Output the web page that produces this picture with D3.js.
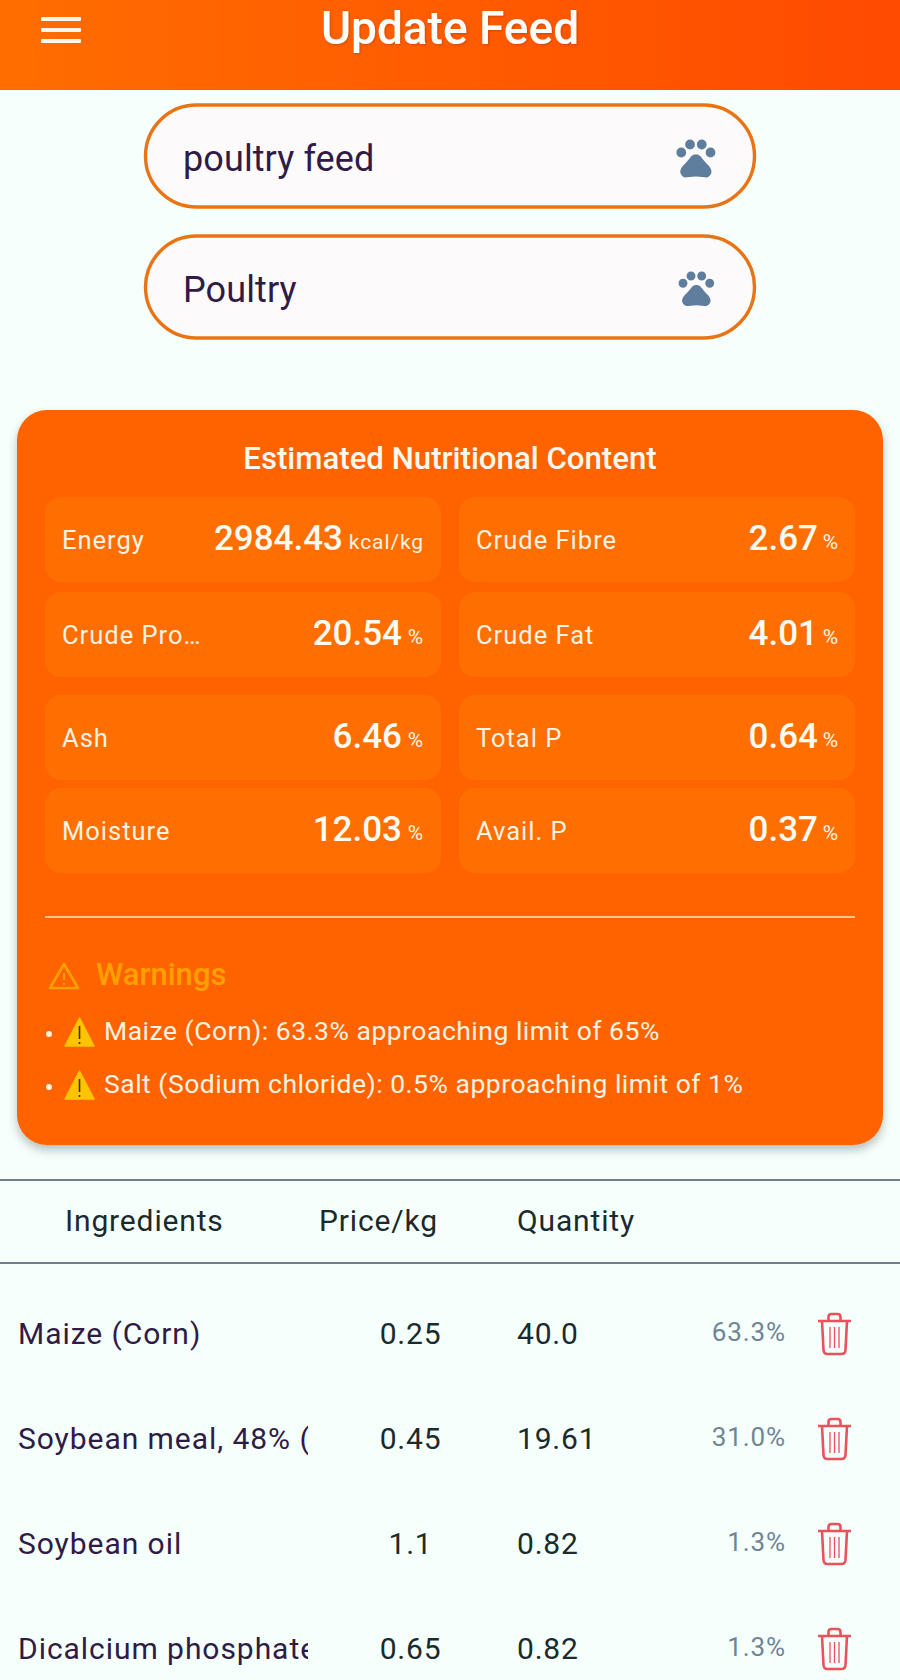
<!DOCTYPE html>
<html>
<head>
<meta charset="utf-8">
<script src="https://d3js.org/d3.v7.min.js"></script>
<style>
    html, body { margin: 0; padding: 0; background: #f5fffb; }
    svg { display: block; font-family: Roboto, sans-serif; }
</style>
</head>
<body>
<svg id="app" width="900" height="1680"></svg>
<script>
    // nutrition grid
    const nutrientLabels = ["Energy", "Crude Fibre", "Crude Pro…", "Crude Fat", "Ash", "Total P", "Moisture", "Avail. P"];
    const nutrientValues = ["2984.43", "2.67", "20.54", "4.01", "6.46", "0.64", "12.03", "0.37"];
    const nutrientUnits = ["kcal/kg", "%", "%", "%", "%", "%", "%", "%"];

    // warnings
    const warningLines = [
        "Maize (Corn): 63.3% approaching limit of 65%",
        "Salt (Sodium chloride): 0.5% approaching limit of 1%"
    ];

    // ingredient table
    const tableHeaders = ["Ingredients", "Price/kg", "Quantity"];
    const ingredients = ["Maize (Corn)", "Soybean meal, 48% (CP)", "Soybean oil", "Dicalcium phosphate"];
    const prices = ["0.25", "0.45", "1.1", "0.65"];
    const quantities = ["40.0", "19.61", "0.82", "0.82"];
    const shares = ["63.3%", "31.0%", "1.3%", "1.3%"];

    const formFields = ["poultry feed", "Poultry"];

    const svg = d3.select("#app");
    const defs = svg.append("defs");

    const grad = defs.append("linearGradient").attr("id", "headerGrad");
    grad.append("stop").attr("offset", "0%").attr("stop-color", "#ff6d00");
    grad.append("stop").attr("offset", "100%").attr("stop-color", "#ff4a00");

    const shadow = defs.append("filter").attr("id", "cardShadow")
        .attr("x", "-5%").attr("y", "-5%").attr("width", "110%").attr("height", "110%");
    shadow.append("feDropShadow").attr("dx", 0).attr("dy", 5).attr("stdDeviation", 5)
        .attr("flood-color", "#000").attr("flood-opacity", 0.25);

    const titleShadow = defs.append("filter").attr("id", "titleShadow");
    titleShadow.append("feDropShadow").attr("dx", 1).attr("dy", 1).attr("stdDeviation", 1)
        .attr("flood-color", "#000").attr("flood-opacity", 0.2);

    defs.append("clipPath").attr("id", "nameClip")
        .append("rect").attr("x", 0).attr("y", 1280).attr("width", 308).attr("height", 400);

    const pawPath = "M4.5 7a2.5 2.5 0 1 0 0 5a2.5 2.5 0 1 0 0-5zM9 3a2.5 2.5 0 1 0 0 5a2.5 2.5 0 1 0 0-5zM15 3a2.5 2.5 0 1 0 0 5a2.5 2.5 0 1 0 0-5zM19.5 7a2.5 2.5 0 1 0 0 5a2.5 2.5 0 1 0 0-5zM17.34 14.86c-.87-1.02-1.6-1.89-2.48-2.91-.46-.54-1.05-1.08-1.75-1.32-.11-.04-.22-.07-.33-.09-.25-.04-.52-.04-.78-.04s-.53 0-.79.05c-.11.02-.22.05-.33.09-.7.24-1.28.78-1.75 1.32-.87 1.02-1.6 1.89-2.48 2.91-1.31 1.31-2.92 2.76-2.62 4.79.29 1.02 1.02 2.03 2.33 2.32.73.15 3.06-.44 5.54-.44h.18c2.48 0 4.81.58 5.54.44 1.31-.29 2.04-1.31 2.33-2.32.31-2.04-1.3-3.49-2.61-4.8z";

    // header
    svg.append("rect").attr("width", 900).attr("height", 90).attr("fill", "url(#headerGrad)");
    svg.append("g").selectAll("rect")
        .data([17, 28, 39])
        .join("rect")
        .attr("x", 41).attr("y", d => d).attr("width", 40).attr("height", 4).attr("rx", 1)
        .attr("fill", "#fff6ec");
    svg.append("text")
        .attr("x", 450).attr("y", 44).attr("text-anchor", "middle")
        .attr("font-size", 46).attr("font-weight", 500).attr("fill", "#fff")
        .attr("filter", "url(#titleShadow)")
        .text("Update Feed");

    // name + animal fields
    const fieldY = d3.scaleOrdinal().domain(formFields).range([105, 236]);
    const fields = svg.append("g").selectAll("g")
        .data(formFields)
        .join("g")
        .attr("transform", d => `translate(0,${fieldY(d)})`);
    fields.append("rect")
        .attr("x", 145.5).attr("width", 609).attr("height", 102).attr("rx", 51)
        .attr("fill", "#fdfafc").attr("stroke", "#ea7413").attr("stroke-width", 3.4);
    fields.append("text")
        .attr("x", 183).attr("y", 66)
        .attr("font-size", 36).attr("letter-spacing", 0.1).attr("fill", "#2f1b45")
        .text(d => d);
    fields.append("path")
        .attr("d", pawPath)
        .attr("transform", (d, i) => i === 0 ? "translate(672.5,28.5) scale(1.95,2.0)" : "translate(675,30) scale(1.78,1.82)")
        .attr("fill", "#5f7d9c");

    // nutrition card
    svg.append("rect")
        .attr("x", 17).attr("y", 410).attr("width", 866).attr("height", 735).attr("rx", 30)
        .attr("fill", "#ff6400").attr("filter", "url(#cardShadow)");
    svg.append("text")
        .attr("x", 450).attr("y", 469).attr("text-anchor", "middle")
        .attr("font-size", 31.2).attr("font-weight", 500).attr("fill", "#fff8ef")
        .text("Estimated Nutritional Content");

    const colX = d3.scaleOrdinal().domain([0, 1]).range([45, 459]);
    const rowY = d3.scaleOrdinal().domain([0, 1, 2, 3]).range([497, 592, 695, 788]);
    const cells = svg.append("g").selectAll("g")
        .data(nutrientLabels)
        .join("g")
        .attr("transform", (d, i) => `translate(${colX(i % 2)},${rowY(Math.floor(i / 2))})`);
    cells.append("rect")
        .attr("width", 396).attr("height", 85).attr("rx", 16).attr("fill", "#ff6e00");
    cells.append("text")
        .attr("x", 17).attr("y", 52)
        .attr("font-size", 25.5).attr("letter-spacing", 1).attr("fill", "#fff3e4")
        .text(d => d);
    cells.append("text")
        .attr("x", (d, i) => i % 2 ? 380 : 379).attr("y", 52).attr("text-anchor", "end")
        .attr("font-size", 21).attr("letter-spacing", 0.9).attr("fill", "#fff3e4")
        .text((d, i) => nutrientUnits[i]);
    cells.append("text")
        .attr("x", (d, i) => i === 0 ? 298 : (i % 2 ? 359 : 357)).attr("y", 53).attr("text-anchor", "end")
        .attr("font-size", 35).attr("font-weight", 500).attr("fill", "#fffaf2")
        .text((d, i) => nutrientValues[i]);

    svg.append("line")
        .attr("x1", 45).attr("x2", 855).attr("y1", 917).attr("y2", 917)
        .attr("stroke", "#ffc78f").attr("stroke-width", 2);

    // warnings
    svg.append("path")
        .attr("d", "M64 964L78 988H50Z")
        .attr("fill", "none").attr("stroke", "#ffa000").attr("stroke-width", 2.6).attr("stroke-linejoin", "round");
    svg.append("path")
        .attr("d", "M64 973V980M64 983V985")
        .attr("stroke", "#ffa000").attr("stroke-width", 2);
    svg.append("text")
        .attr("x", 96).attr("y", 985)
        .attr("font-size", 31).attr("font-weight", 500).attr("fill", "#ffa000")
        .text("Warnings");

    const warnY = d3.scaleOrdinal().domain(warningLines).range([1040, 1093]);
    const warns = svg.append("g").selectAll("g")
        .data(warningLines)
        .join("g")
        .attr("transform", d => `translate(0,${warnY(d)})`);
    warns.append("circle").attr("cx", 49).attr("cy", -6).attr("r", 3).attr("fill", "#fff3e4");
    warns.append("path")
        .attr("d", "M79.5 -22L94 6H65Z")
        .attr("fill", "#ffc400").attr("stroke", "#ffc400").attr("stroke-width", 1.5).attr("stroke-linejoin", "round");
    warns.append("path")
        .attr("d", "M79.5 -14V-1M79.5 2V4")
        .attr("stroke", "#3a2a10").attr("stroke-width", 1.6);
    warns.append("text")
        .attr("x", 104).attr("y", 0)
        .attr("font-size", 26.5).attr("letter-spacing", 0.5).attr("fill", "#fff3e4")
        .text(d => d);

    // table header
    svg.append("g").selectAll("line")
        .data([1180, 1263])
        .join("line")
        .attr("x1", 0).attr("x2", 900).attr("y1", d => d).attr("y2", d => d)
        .attr("stroke", "#6f7f90").attr("stroke-width", 2);
    const headerX = d3.scaleOrdinal().domain(tableHeaders).range([65, 319, 517]);
    svg.append("g").selectAll("text")
        .data(tableHeaders)
        .join("text")
        .attr("x", d => headerX(d)).attr("y", 1231)
        .attr("font-size", 30).attr("letter-spacing", 0.85).attr("fill", "#1b2a2c")
        .text(d => d);

    // table rows
    const y = d3.scalePoint().domain(d3.range(ingredients.length)).range([1344, 1659]);
    const rows = svg.append("g").selectAll("g")
        .data(ingredients)
        .join("g");
    rows.append("g").attr("clip-path", "url(#nameClip)")
        .append("text")
        .attr("x", 18).attr("y", (d, i) => y(i))
        .attr("font-size", 30).attr("letter-spacing", 0.95).attr("fill", "#2f1b45")
        .text(d => d);
    rows.append("text")
        .attr("x", 410.5).attr("y", (d, i) => y(i)).attr("text-anchor", "middle")
        .attr("font-size", 30).attr("letter-spacing", 0.8).attr("fill", "#1b2a2c")
        .text((d, i) => prices[i]);
    rows.append("text")
        .attr("x", 517).attr("y", (d, i) => y(i))
        .attr("font-size", 30).attr("letter-spacing", 0.8).attr("fill", "#1b2a2c")
        .text((d, i) => quantities[i]);
    rows.append("text")
        .attr("x", 786).attr("y", (d, i) => y(i) - 3).attr("text-anchor", "end")
        .attr("font-size", 26).attr("letter-spacing", 0.9).attr("fill", "#6f8596")
        .text((d, i) => shares[i]);

    // trash icons
    const trash = rows.append("g")
        .attr("transform", (d, i) => `translate(818,${y(i) - 31})`)
        .attr("fill", "none").attr("stroke", "#e9525a").attr("stroke-width", 2.6).attr("stroke-linejoin", "round");
    trash.append("path").attr("d", "M0 8H33");
    trash.append("path").attr("d", "M10.5 8V4Q10.5 1 13.5 1H19.5Q22.5 1 22.5 4V8");
    trash.append("path").attr("d", "M4 8L5.5 37Q5.8 41 9.5 41H23.5Q27.2 41 27.5 37L29 8");
    trash.append("path").attr("d", "M12 14V35M16.5 14V35M21 14V35").attr("stroke-width", 1.3);
</script>
</body>
</html>
